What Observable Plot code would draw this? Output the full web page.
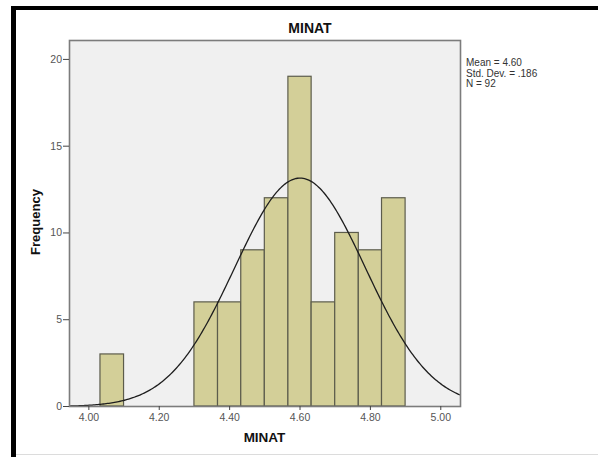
<!DOCTYPE html>
<html>
<head>
<meta charset="utf-8">
<script src="https://cdn.jsdelivr.net/npm/d3@7"></script>
<script src="https://cdn.jsdelivr.net/npm/@observablehq/plot@0.6"></script>
<style>
  html, body { margin: 0; padding: 0; background: #fff; }
  #wrap { position: relative; width: 598px; height: 457px; overflow: hidden; background: #fff;
          font-family: "Liberation Sans", Arial, sans-serif; }
  #wrap svg { position: absolute; left: 0; top: 0; }
  .abs { position: absolute; white-space: nowrap; }
</style>
</head>
<body>
<div id="wrap"></div>
<script>
// ---- data ----
const binLo  = [4.033, 4.300, 4.367, 4.433, 4.500, 4.567, 4.633, 4.700, 4.767, 4.833];
const binHi  = [4.100, 4.367, 4.433, 4.500, 4.567, 4.633, 4.700, 4.767, 4.833, 4.900];
const counts = [3, 6, 6, 9, 12, 19, 6, 10, 9, 12];
const xTicks = [4.0, 4.2, 4.4, 4.6, 4.8, 5.0];
const yTicks = [0, 5, 10, 15, 20];
const statLines = ["Mean = 4.60", "Std. Dev. = .186", "N = 92"];
const mean = 4.60, sd = 0.186, n = 92, binWidth = 0.0667;

const bins = binLo.map((lo, i) => ({x1: lo, x2: binHi[i], y: counts[i]}));
const xDomain = [3.945, 5.056];
// fitted normal curve (SPSS overlay) from displayed mean / sd / N
const curve = d3.range(xDomain[0], xDomain[1] + 0.0001, 0.004).map(x => ({
  x, y: n * binWidth * Math.exp(-0.5 * ((x - mean) / sd) ** 2) / (sd * Math.sqrt(2 * Math.PI))
}));

const chart = Plot.plot({
  width: 598, height: 457,
  marginLeft: 69, marginRight: 138, marginTop: 40, marginBottom: 51,
  style: {fontFamily: '"Liberation Sans", Arial, sans-serif', fontSize: "10.5px", color: "#555", background: "transparent"},
  x: {domain: xDomain},
  y: {domain: [0, 21.09]},
  marks: [
    Plot.frame({fill: "#f0f0f0", stroke: null}),
    Plot.rectY(bins, {x1: "x1", x2: "x2", y: "y", fill: "#d3cf98", stroke: "#5c5c4c", strokeWidth: 1.2}),
    Plot.line(curve, {x: "x", y: "y", stroke: "#1e1e1e", strokeWidth: 1.3}),
    Plot.frame({stroke: "#7c7c7c", strokeWidth: 1.6}),
    Plot.axisY({ticks: yTicks, tickSize: 6, tickPadding: 1.5, label: null, fill: "#555", stroke: "#444", fontSize: 10.5}),
    Plot.axisX({ticks: xTicks, tickFormat: d3.format(".2f"), tickSize: 4, tickPadding: 3, label: null, fill: "#555", stroke: "#444", fontSize: 10.5})
  ]
});

const wrap = document.getElementById("wrap");
wrap.appendChild(chart);

function add(html, css) {
  const d = document.createElement("div");
  d.className = "abs";
  d.innerHTML = html;
  Object.assign(d.style, css);
  wrap.appendChild(d);
  return d;
}
// outer frame (thick black left/top edges, faint bottom line)
add("", {left: "11px", top: "6px", width: "5px", height: "451px", background: "#000"});
add("", {left: "11px", top: "6px", width: "587px", height: "4px", background: "#000"});
add("", {left: "16px", top: "454px", width: "582px", height: "1px", background: "#dcdcdc"});
// title
add("MINAT", {left: "310px", top: "20px", transform: "translateX(-50%)", fontWeight: "bold", fontSize: "14px", color: "#111"});
// x label
add("MINAT", {left: "264.5px", top: "430px", transform: "translateX(-50%)", fontWeight: "bold", fontSize: "13.5px", color: "#111"});
// y label
add("Frequency", {left: "35px", top: "222px", transform: "translate(-50%,-50%) rotate(-90deg)", fontWeight: "bold", fontSize: "13px", color: "#111"});
// stats
add(statLines.join("<br>"), {left: "466px", top: "58px", fontSize: "10px", lineHeight: "10.5px", color: "#333"});
</script>
</body>
</html>
